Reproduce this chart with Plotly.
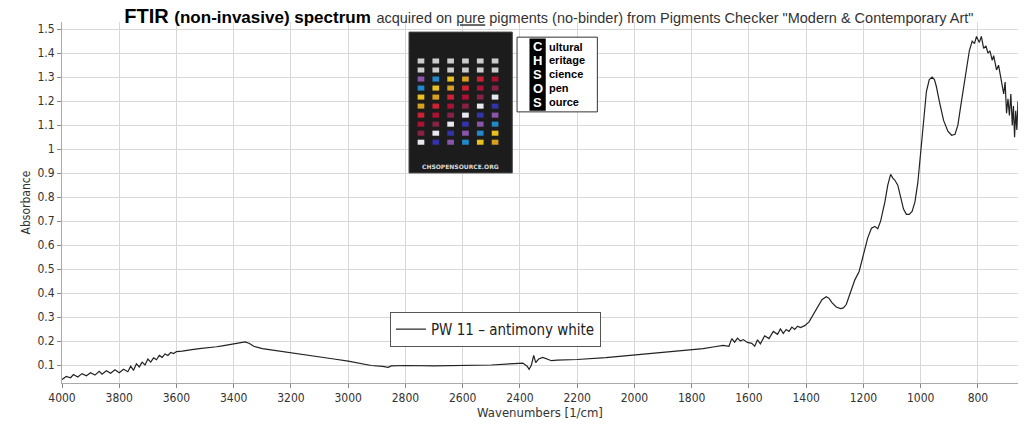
import plotly.graph_objects as go

wavenumber = [4000,3985,3970,3960,3945,3930,3915,3900,3885,3870,3860,3845,3830,3815,3800,3785,3770,3760,3750,3740,3730,3720,3710,3700,3690,3680,3670,3660,3650,3640,3630,3620,3610,3600,3580,3560,3540,3520,3500,3480,3460,3440,3420,3400,3380,3360,3345,3330,3300,3250,3200,3150,3100,3050,3000,2950,2920,2880,2860,2850,2830,2800,2700,2600,2500,2420,2390,2375,2368,2360,2352,2345,2335,2320,2305,2290,2270,2200,2100,2000,1900,1800,1760,1720,1690,1670,1660,1650,1640,1630,1620,1605,1590,1580,1570,1560,1545,1530,1515,1500,1490,1480,1470,1460,1450,1440,1430,1420,1405,1390,1375,1360,1345,1330,1320,1310,1295,1280,1270,1260,1245,1230,1215,1200,1185,1172,1160,1150,1140,1125,1115,1105,1098,1090,1080,1070,1060,1050,1040,1030,1020,1010,1000,990,980,970,960,952,945,935,920,905,892,880,870,860,850,840,830,820,812,805,800,795,788,780,772,765,758,750,745,740,735,728,720,715,710,705,700,695,690,685,680,676,672,668,664,660]
absorbance = [0.040,0.052,0.047,0.060,0.050,0.064,0.055,0.068,0.058,0.074,0.062,0.076,0.066,0.080,0.068,0.082,0.072,0.095,0.078,0.105,0.092,0.112,0.100,0.125,0.112,0.130,0.122,0.140,0.132,0.146,0.140,0.152,0.148,0.156,0.158,0.163,0.165,0.168,0.170,0.172,0.176,0.180,0.184,0.188,0.192,0.196,0.190,0.178,0.168,0.160,0.152,0.143,0.134,0.125,0.116,0.105,0.098,0.094,0.090,0.096,0.098,0.098,0.096,0.097,0.100,0.106,0.108,0.095,0.082,0.100,0.140,0.110,0.125,0.132,0.124,0.118,0.120,0.123,0.131,0.142,0.155,0.163,0.168,0.176,0.182,0.178,0.210,0.195,0.212,0.200,0.206,0.194,0.190,0.178,0.205,0.188,0.222,0.210,0.240,0.228,0.250,0.232,0.248,0.240,0.258,0.248,0.262,0.256,0.264,0.280,0.310,0.345,0.372,0.385,0.378,0.360,0.342,0.335,0.338,0.352,0.400,0.455,0.490,0.555,0.630,0.670,0.678,0.668,0.700,0.780,0.850,0.895,0.880,0.870,0.850,0.800,0.750,0.728,0.728,0.740,0.780,0.860,0.980,1.120,1.240,1.290,1.300,1.290,1.260,1.200,1.120,1.075,1.058,1.062,1.100,1.180,1.260,1.340,1.410,1.450,1.440,1.470,1.455,1.445,1.470,1.420,1.430,1.400,1.410,1.370,1.390,1.360,1.330,1.350,1.300,1.260,1.230,1.280,1.150,1.210,1.140,1.230,1.100,1.180,1.050,1.160,1.080,1.200,1.130]

xticks = list(range(4000, 799, -200))
yticks = [round(0.1 * i, 1) for i in range(1, 16)]
ytext = ["1" if v == 1.0 else str(v) for v in yticks]

fig = go.Figure()
fig.add_trace(go.Scatter(x=wavenumber, y=absorbance, mode="lines",
                         line=dict(color="#222222", width=1.2),
                         name="PW 11 \u2013 antimony white"))

axis_common = dict(showgrid=True, gridcolor="#d8d8d8", gridwidth=1, zeroline=False, automargin=False,
                   showline=True, linecolor="#aaaaaa", ticks="outside", ticklen=4,
                   tickcolor="#888888", tickfont=dict(family="DejaVu Sans Condensed, DejaVu Sans", size=12, color="#333"),
                   minor=dict(ticks="outside", ticklen=2, tickcolor="#aaaaaa", showgrid=False))
fig.update_xaxes(range=[4000, 660], tickvals=xticks, title=dict(text="Wavenumbers [1/cm]", standoff=0,
                 font=dict(family="DejaVu Sans Condensed, DejaVu Sans", size=13, color="#333")), **axis_common)
fig.update_yaxes(range=[0.025, 1.53], tickvals=yticks, ticktext=ytext, title=dict(text="Absorbance", standoff=4,
                 font=dict(family="DejaVu Sans Condensed, DejaVu Sans", size=12, color="#333")), **axis_common)

shapes = []
ann = []
shapes.append(dict(type="rect", xref="paper", yref="paper", x0=0.363, x1=0.471, y0=0.582, y1=0.972,
                   fillcolor="#1c1c1c", line=dict(color="#444", width=1), layer="above"))
cols = ["#e8e8f0", "#3333aa", "#8855aa", "#2288cc", "#e8c020", "#d8a020", "#cc2233", "#aa1133", "#882244"]
for r in range(10):
    for c in range(6):
        color = cols[min(8, (r + c) % 9)] if r > 1 else "#cccccc"
        x0 = 0.372 + c * 0.0155
        y0 = 0.885 - r * 0.025
        shapes.append(dict(type="rect", xref="paper", yref="paper", x0=x0, x1=x0 + 0.007,
                           y0=y0, y1=y0 + 0.014, fillcolor=color, line=dict(width=0), layer="above"))
ann.append(dict(xref="paper", yref="paper", x=0.417, y=0.60, text="<b>CHSOPENSOURCE.ORG</b>", showarrow=False,
                font=dict(size=6, color="#dddddd", family="DejaVu Sans")))
shapes.append(dict(type="rect", xref="paper", yref="paper", x0=0.476, x1=0.560, y0=0.751, y1=0.958,
                   fillcolor="white", line=dict(color="#333", width=1), layer="above"))
shapes.append(dict(type="rect", xref="paper", yref="paper", x0=0.489, x1=0.506, y0=0.754, y1=0.954,
                   fillcolor="black", line=dict(width=0), layer="above"))
words = [("C", "ultural"), ("H", "eritage"), ("S", "cience"), ("O", "pen"), ("S", "ource")]
for i, (l, w) in enumerate(words):
    yy = 0.932 - i * 0.0385
    ann.append(dict(xref="paper", yref="paper", x=0.4975, y=yy, xanchor="center", yanchor="middle",
                    text="<b>" + l + "</b>", showarrow=False,
                    font=dict(size=13, color="white", family="Liberation Sans")))
    ann.append(dict(xref="paper", yref="paper", x=0.507, y=yy, xanchor="left", yanchor="middle",
                    text="<b>" + w + "</b>", showarrow=False,
                    font=dict(size=11, color="black", family="Liberation Sans Narrow, Liberation Sans")))

fig.update_layout(
    paper_bgcolor="white", plot_bgcolor="white",
    margin=dict(l=62, r=6, t=22, b=46, autoexpand=False),
    title=dict(text="<b>FTIR</b> <b><span style='font-size:17px'>(non-invasive) spectrum</span></b> "
                    "<span style='font-size:14.5px;color:#333'>acquired on <span style='text-decoration:underline'>pure</span> pigments (no-binder) from Pigments Checker \"Modern &amp; Contemporary Art\"</span>",
               x=0.536, xanchor="center", y=0.962, yanchor="middle",
               font=dict(family="Liberation Sans Narrow, Liberation Sans, Arial", size=20, color="black")),
    showlegend=True,
    legend=dict(x=0.343, y=0.197, xanchor="left", yanchor="top", bgcolor="white",
                bordercolor="#555", borderwidth=1,
                font=dict(family="DejaVu Sans Condensed, DejaVu Sans", size=15, color="#222")),
    shapes=shapes, annotations=ann,
)
html = fig.to_html(full_html=True, include_plotlyjs=True, default_width="100%", default_height="100%",
                   config={"displayModeBar": False})
html = html.replace("<head>", "<head><style>html,body{margin:0;padding:0;width:100%;height:100%;overflow:hidden}</style>", 1)
with open("out.html", "w", encoding="utf-8") as f:
    f.write(html)
